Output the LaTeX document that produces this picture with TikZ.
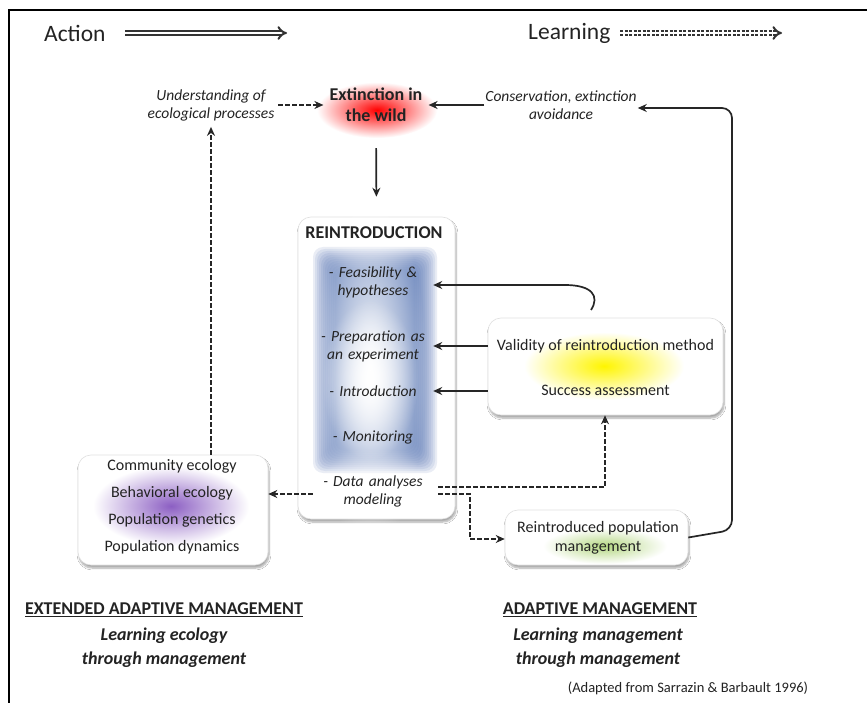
\documentclass[tikz,border=0pt]{standalone}
\usepackage{fontspec}
\setmainfont{Carlito}
\usetikzlibrary{arrows.meta,shadows.blur,fadings}
\definecolor{txt}{RGB}{35,35,35}
\definecolor{blueg}{RGB}{85,115,180}
\definecolor{purp}{RGB}{140,95,195}
\definecolor{yel}{RGB}{255,245,0}
\definecolor{grn}{RGB}{180,215,130}
\tikzfading[name=softglow, inner color=transparent!0, outer color=transparent!100]
\begin{document}
\begin{tikzpicture}[x=1pt,y=-1pt,
  body/.style={font=\fontsize{16}{19}\selectfont, text=txt, align=center, inner sep=0pt},
  itx/.style={body, font=\fontsize{15.5}{18}\selectfont\itshape},
  bld/.style={body, font=\fontsize{18}{21}\selectfont\bfseries},
  ttl/.style={font=\fontsize{23.5}{27}\selectfont, text=txt, inner sep=0pt},
  item/.style={itx, text width=120pt},
  panel/.style={draw=black!12, fill=white, rounded corners=13pt, line width=0.6pt,
     blur shadow={shadow xshift=1pt, shadow yshift=-3pt, shadow opacity=35, shadow blur steps=6}},
  arr/.style={line width=1.7pt, draw=black!85, -{Stealth[length=9pt,width=8pt]}},
  darr/.style={arr, dash pattern=on 4.5pt off 2.5pt},
]
\useasboundingbox (0,0) rectangle (867,703);
\fill[white] (0,0) rectangle (867,703);
\draw[line width=1.3pt] (9,703) -- (9,10) -- (867,10);

% header
\node[ttl, anchor=west] (action) at (44,33) {Action};
\coordinate (a1) at (125,33);
\coordinate (a2) at (287,33);
\draw[double=white, double distance=2.4pt, line width=2pt, draw=black!80, -{Implies}] (a1) -- (a2);
\node[ttl, anchor=west] (learn) at (528,33) {Learning};
\coordinate (l1) at (620,33);
\coordinate (l2) at (782,33);
\draw[double=white, double distance=2.4pt, line width=2pt, draw=black!80, dash pattern=on 3pt off 1.5pt, -{Implies}] (l1) -- (l2);

% glow (top)
\shade[inner color=red, outer color=white] (377,110) ellipse (60 and 28);

% top row
\node[itx] (und) at (211,105) {Understanding of\\ecological processes};
\node[bld] (ext) at (376,105) {Extinction in\\the wild};
\node[itx] (cons) at (561,105) {Conservation, extinction\\avoidance};

% panels
\node[panel, minimum width=157pt, minimum height=302pt] (rbox) at (376.5,368) {};
\node[panel, minimum width=235pt, minimum height=97pt] (val) at (605.5,366.5) {};
\node[panel, minimum width=183pt, minimum height=55pt] (rpop) at (596.5,537.5) {};
\node[panel, minimum width=190pt, minimum height=110pt] (comm) at (173,510) {};

% blue gradient inside reintroduction
\foreach \i in {0,...,11}{
  \fill[blueg, opacity=0.12, rounded corners=10pt] (313+\i*2,247+\i*2) rectangle (437-\i*2,473-\i*2);
}
\fill[white, path fading=softglow] (370,370) ellipse (56 and 180);
\fill[white, path fading=softglow] (370,380) ellipse (48 and 80);
% other glows
\shade[inner color=yel, outer color=white] (604,366) ellipse (80 and 34);
\shade[inner color=purp, outer color=white] (171,506) ellipse (78 and 40);
\shade[inner color=grn, outer color=white] (605,546) ellipse (62 and 18);

% reintroduction contents
\node[bld] (rtitle) at (374,233) {REINTRODUCTION};
\node[item] (feas) at (373,282) {- Feasibility \&\\hypotheses};
\node[item] (prep) at (373,346) {- Preparation as\\an experiment};
\node[item] (intro) at (373,391) {- Introduction};
\node[item] (mon) at (373,437) {- Monitoring};
\node[item] (data) at (373,491) {- Data analyses\\modeling};

% validity contents
\node[body] (valt) at (605.5,346) {Validity of reintroduction method};
\node[body] (succ) at (605.5,390) {Success assessment};

% reintroduced population
\node[body] (rpopt) at (598,538) {Reintroduced population\\management};

% community
\node[body] (c1) at (172,466) {Community ecology};
\node[body] (c2) at (172,493) {Behavioral ecology};
\node[body] (c3) at (172,520) {Population genetics};
\node[body] (c4) at (172,547) {Population dynamics};

% connectors
\draw[darr, shorten <=4pt, shorten >=6pt] (und.east) -- (ext.west);
\draw[arr, shorten <=1pt, shorten >=6pt] (cons.west) -- (ext.east);
\draw[arr, shorten <=26pt, shorten >=20pt] (ext.south) -- (rbox.north);
\coordinate (vc) at (591,310);
\coordinate (vk) at (565,285);
\draw[arr] (vc) .. controls (600,296) and (592,285) .. (vk) -- (feas.east |- vk);
\draw[arr] (val.west |- prep) -- (prep.east);
\draw[arr] (val.west |- intro) -- (intro.east);
\coordinate (du) at ([xshift=5pt,yshift=4pt]data.east);
\coordinate (d1) at (605,487);
\draw[darr] (du) -- (d1) -- (val.south -| d1);
\coordinate (dd) at ([xshift=5pt,yshift=-3pt]data.east);
\coordinate (d2) at (470,494);
\coordinate (d3) at (470,539);
\draw[darr] (dd) -- (d2) -- (d3) -- (rpop.west |- d3);
\coordinate (dl) at ([yshift=-3pt]data.west);
\draw[darr] (dl) -- (comm.east |- dl);
\draw[darr, shorten >=6pt] (und.south |- comm.north) -- (und.south);
\coordinate (r1) at (732,530);
\coordinate (r2) at (732,108);
\draw[arr, rounded corners=10pt] (rpop.east) -- (r1) -- (r2) -- ([xshift=1pt,yshift=-3pt]cons.east);

% bottom
\node[bld] (eam) at (164,610) {\underline{EXTENDED ADAPTIVE MANAGEMENT}};
\node[bld, font=\fontsize{18}{24}\selectfont\bfseries\itshape] (eam2) at (164,648) {Learning ecology\\through management};
\node[bld] (am) at (600,610) {\underline{ADAPTIVE MANAGEMENT}};
\node[bld, font=\fontsize{18}{24}\selectfont\bfseries\itshape] (am2) at (598,648) {Learning management\\through management};
\node[body, font=\fontsize{14.5}{17}\selectfont] (src) at (688,688) {(Adapted from Sarrazin \& Barbault 1996)};
\end{tikzpicture}
\end{document}
